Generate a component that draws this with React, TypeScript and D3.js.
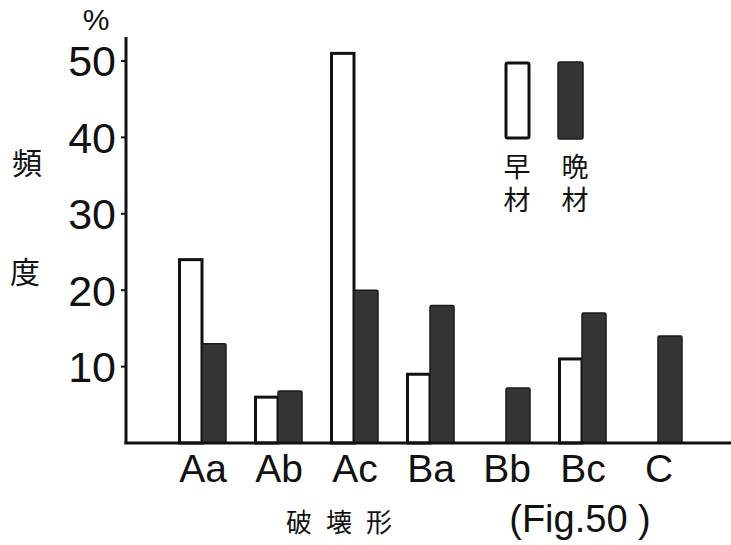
import React from "react";
import * as d3 from "d3";

const categories = ["Aa", "Ab", "Ac", "Ba", "Bb", "Bc", "C"];
const earlyWood = [24, 6, 51, 9, 0, 11, 0];
const lateWood = [13, 6.8, 20, 18, 7.2, 17, 14];
const yTicks = [10, 20, 30, 40, 50];
const seriesKeys = ["early", "late"];
const legendLabels = ["早材", "晩材"];

const W = 731;
const H = 545;
const FONT = "'Liberation Sans', Arial, sans-serif";
const CJK = "'Noto Sans CJK JP', 'Noto Sans CJK SC', sans-serif";
const DARK = "#353535";

export default function App() {
  const x0 = d3.scaleBand().domain(categories).range([164, 696]).padding(0);
  const x1 = d3.scaleBand().domain(seriesKeys).range([-24, 24]).padding(0);
  const y = d3.scaleLinear().domain([0, 50]).range([443, 61]);
  const baseY = y(0);

  return (
    <svg
      width={W}
      height={H}
      style={{ position: "absolute", left: 0, top: 0, display: "block", background: "#fff" }}
    >
      {/* bars */}
      {categories.map((c, i) => {
        const cx = x0(c)! + x0.bandwidth() / 2;
        const e = earlyWood[i];
        const l = lateWood[i];
        return (
          <g key={c}>
            {e > 0 && (
              <rect
                x={cx + x1("early")! + 1.5}
                y={y(e)}
                width={x1.bandwidth() - 1.5}
                height={baseY - y(e)}
                fill="#fff"
                stroke="#111"
                strokeWidth={3}
              />
            )}
            {l > 0 && (
              <rect
                x={cx + x1("late")!}
                y={y(l)}
                width={x1.bandwidth()}
                height={baseY - y(l)}
                fill={DARK}
                stroke="#1a1a1a"
                strokeWidth={1.5}
                rx={1.5}
              />
            )}
            <text
              x={cx + 1}
              y={482}
              textAnchor="middle"
              fontFamily={FONT}
              fontSize={39}
              fill="#111"
            >
              {c}
            </text>
          </g>
        );
      })}

      {/* axes */}
      <line x1={126} y1={37} x2={126} y2={baseY + 1} stroke="#111" strokeWidth={3} />
      <line x1={124.5} y1={baseY} x2={W} y2={baseY} stroke="#111" strokeWidth={3} />

      {yTicks.map((t) => (
        <g key={t}>
          <line x1={121} y1={y(t)} x2={126} y2={y(t)} stroke="#111" strokeWidth={2} />
          <text
            x={116}
            y={y(t)}
            dy="0.36em"
            textAnchor="end"
            fontFamily={FONT}
            fontSize={43}
            fill="#111"
          >
            {t}
          </text>
        </g>
      ))}

      <text x={96} y={30} textAnchor="middle" fontFamily={FONT} fontSize={30} fill="#111">
        %
      </text>

      {/* y axis title */}
      <text x={27} y={163} dy="0.35em" textAnchor="middle" fontFamily={CJK} fontSize={30} fill="#111">
        頻
      </text>
      <text x={25} y={272} dy="0.35em" textAnchor="middle" fontFamily={CJK} fontSize={30} fill="#111">
        度
      </text>

      {/* x axis title */}
      <text
        x={346}
        y={523}
        dy="0.35em"
        textAnchor="middle"
        fontFamily={CJK}
        fontSize={26}
        letterSpacing={14}
        fill="#111"
      >
        破壊形
      </text>
      <text x={580} y={532} textAnchor="middle" fontFamily={FONT} fontSize={38} fill="#111">
        (Fig.50 )
      </text>

      {/* legend */}
      <rect x={506} y={63} width={23} height={75} fill="#fff" stroke="#111" strokeWidth={3} rx={1.5} />
      <rect x={558} y={62} width={25} height={77} fill={DARK} stroke="#1a1a1a" strokeWidth={1.5} rx={2} />
      {legendLabels.map((lab, i) => (
        <text
          key={lab}
          x={i === 0 ? 517 : 575}
          y={153}
          fontFamily={CJK}
          fontSize={27}
          letterSpacing={6}
          fill="#111"
          style={{ writingMode: "vertical-rl" } as React.CSSProperties}
        >
          {lab}
        </text>
      ))}
    </svg>
  );
}
